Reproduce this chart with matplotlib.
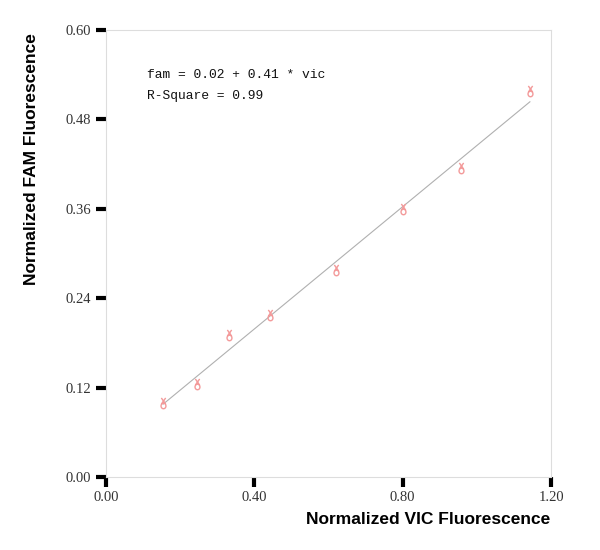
import numpy as np
import matplotlib
matplotlib.use("Agg")
import matplotlib.pyplot as plt
from matplotlib.path import Path

vic = [0.154, 0.245, 0.332, 0.442, 0.620, 0.801, 0.957, 1.143]
fam = [0.099, 0.125, 0.191, 0.217, 0.278, 0.360, 0.415, 0.518]
xticks = [0.0, 0.4, 0.8, 1.2]
yticks = [0.0, 0.12, 0.24, 0.36, 0.48, 0.60]
eq_lines = ["fam = 0.02 + 0.41 * vic", "R-Square = 0.99"]

# custom marker: small circle with an x above it
t = np.linspace(0, 2 * np.pi, 25)
circ = np.column_stack([0.4 * np.cos(t), -0.4 + 0.45 * np.sin(t)])
verts = list(circ) + [(-0.35, -0.1), (0.35, 0.9), (-0.35, 0.9), (0.35, -0.1)]
codes = [Path.MOVETO] + [Path.LINETO] * (len(circ) - 1) + [Path.MOVETO, Path.LINETO, Path.MOVETO, Path.LINETO]
mk = Path(verts, codes)

fig = plt.figure(figsize=(6, 5.5), dpi=100)
ax = fig.add_axes([0.1767, 0.1327, 0.7417, 0.8127])

coef = np.polyfit(vic, fam, 1)
xs = np.array([min(vic), max(vic)])
ax.plot(xs, np.polyval(coef, xs), color="#b0b0b0", lw=0.8)
ax.plot(vic, fam, linestyle="none", marker=mk, markersize=8,
        markerfacecolor="none", markeredgecolor="#f39a9a", markeredgewidth=1.0)

ax.set_xlim(0, 1.2)
ax.set_ylim(0, 0.6)
ax.set_xticks(xticks)
ax.set_yticks(yticks)
ax.set_xticklabels([f"{v:.2f}" for v in xticks], family="Liberation Serif", fontsize=10.5, color="#333333")
ax.set_yticklabels([f"{v:.2f}" for v in yticks], family="Liberation Serif", fontsize=10.5, color="#333333")
ax.tick_params(direction="out", length=7, width=3, color="black")
ax.tick_params(axis="y", pad=4)
ax.tick_params(axis="x", pad=3)

for s in ax.spines.values():
    s.set_color("#dddddd")
    s.set_linewidth(0.8)

fig.text(428 / 600, 1 - 520 / 550, "Normalized VIC Fluorescence", fontsize=12.5,
         fontweight="bold", family="Liberation Sans", ha="center", va="center")
fig.text(32 / 600, 1 - 159 / 550, "Normalized FAM Fluorescence", fontsize=12.5,
         fontweight="bold", family="Liberation Sans", ha="center", va="center", rotation=90)

ax.text(0.092, 0.899, eq_lines[0], transform=ax.transAxes, family="Liberation Mono",
        fontsize=9.4, va="center", ha="left", color="#111111")
ax.text(0.092, 0.852, eq_lines[1], transform=ax.transAxes, family="Liberation Mono",
        fontsize=9.4, va="center", ha="left", color="#111111")

fig.savefig("out.png", dpi=100)
